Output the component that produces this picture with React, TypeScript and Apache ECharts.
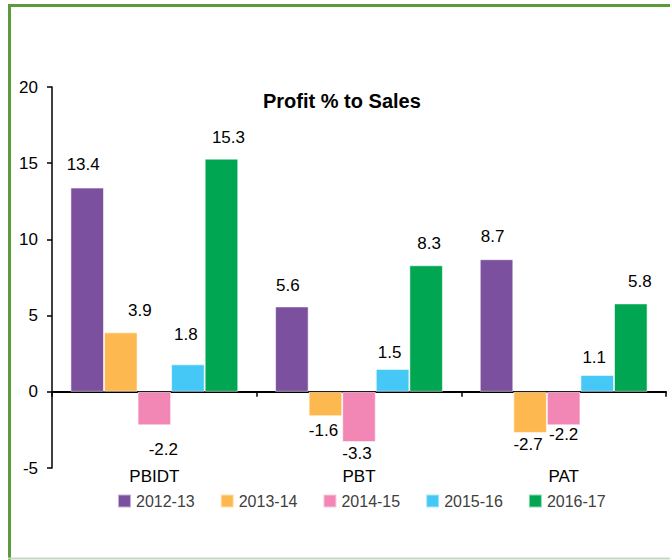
import React, { useEffect, useRef } from "react";
import * as echarts from "echarts";

const categories = ["PBIDT", "PBT", "PAT"];
const years = ["2012-13", "2013-14", "2014-15", "2015-16", "2016-17"];
const v2012_13 = [13.4, 5.6, 8.7];
const v2013_14 = [3.9, -1.6, -2.7];
const v2014_15 = [-2.2, -3.3, -2.2];
const v2015_16 = [1.8, 1.5, 1.1];
const v2016_17 = [15.3, 8.3, 5.8];
const yTicks = [-5, 0, 5, 10, 15, 20];

const seriesValues = [v2012_13, v2013_14, v2014_15, v2015_16, v2016_17];
const colors = ["#7B509E", "#FDB94F", "#F287B6", "#45C8F5", "#00A651"];
// label nudges [distance, dx] per series per category (style only)
const labelNudges = [
  [[15, -4], [12, -4], [14, -4]],
  [[13, 19], [6, -2], [3, -2]],
  [[16, 9], [3, -2], [1, 0]],
  [[21, -2], [8, -3], [9, -3]],
  [[13, 7], [13, 3], [13, 9]],
];

const FONT = "'Liberation Sans', Arial, sans-serif";

export default function App() {
  const ref = useRef<HTMLDivElement>(null);
  useEffect(() => {
    if (!ref.current) return;
    const chart = echarts.init(ref.current, undefined, { renderer: "svg" });
    const series = seriesValues.map((vals, si) => ({
      name: years[si],
      type: "bar",
      barGap: "0%",
      barCategoryGap: "18%",
      itemStyle: { color: colors[si], borderColor: "rgba(255,255,255,0.55)", borderWidth: 1 },
      data: vals.map((v, ci) => ({
        value: v,
        label: {
          show: true,
          position: v >= 0 ? "top" : "bottom",
          distance: labelNudges[si][ci][0],
          offset: [labelNudges[si][ci][1], 0],
          formatter: String(v),
          fontSize: 17,
          fontFamily: FONT,
          color: "#000",
        },
      })),
    }));
    chart.setOption({
      animation: false,
      color: colors,
      textStyle: { fontFamily: FONT },
      title: {
        text: "Profit % to Sales",
        left: 258,
        top: 86,
        textStyle: { fontSize: 20, fontWeight: "bold", color: "#000", fontFamily: FONT },
      },
      legend: {
        data: years,
        left: 112,
        top: 488,
        icon: "rect",
        itemWidth: 13,
        itemHeight: 13,
        itemGap: 25,
        textStyle: { fontSize: 16, color: "#404040", fontFamily: FONT },
      },
      grid: { left: 52, right: 4, top: 87, bottom: 92, containLabel: false },
      xAxis: {
        type: "category",
        data: categories,
        axisLine: { onZero: true, lineStyle: { color: "#000", width: 2 } },
        axisTick: { show: true, length: 5, lineStyle: { color: "#000", width: 1.5 } },
        axisLabel: { margin: 0, fontSize: 17, color: "#000", fontFamily: FONT },
        splitLine: { show: false },
      },
      yAxis: {
        type: "value",
        min: yTicks[0],
        max: yTicks[yTicks.length - 1],
        interval: 5,
        axisLine: { show: true, lineStyle: { color: "#000", width: 1.5 } },
        axisTick: { show: true, length: 5, lineStyle: { color: "#000", width: 1.5 } },
        axisLabel: { margin: 14, fontSize: 17, color: "#000", fontFamily: FONT },
        splitLine: { show: false },
      },
      graphic: [
        { type: "line", shape: { x1: 8, y1: 5.5, x2: 670, y2: 5.5 }, style: { stroke: "#5B9B3C", lineWidth: 3 } },
        { type: "line", shape: { x1: 9.5, y1: 4, x2: 9.5, y2: 560 }, style: { stroke: "#5B9B3C", lineWidth: 3 } },
        { type: "line", shape: { x1: 8, y1: 558.5, x2: 670, y2: 558.5 }, style: { stroke: "#C9D8C2", lineWidth: 2 } },
      ],
      series,
    });
    return () => chart.dispose();
  }, []);
  return (
    <div
      ref={ref}
      style={{ position: "fixed", left: 0, top: 0, width: 670, height: 560, background: "#fff" }}
    />
  );
}
